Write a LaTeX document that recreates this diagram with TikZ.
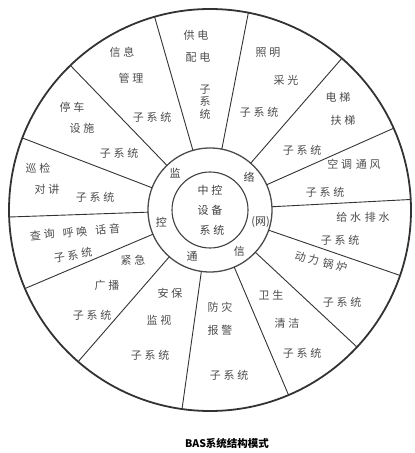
\documentclass[tikz,border=0pt]{standalone}
\usepackage{fontspec}
\newfontfamily\cjk[LetterSpace=25]{Noto Sans CJK SC}
\newfontfamily\cjktight{Noto Sans CJK SC}
\usetikzlibrary{calc}
\tikzset{
  sublbl/.style={font=\cjk\fontsize{11}{12.5}\selectfont,text=black!70,inner sep=0pt,align=center},
  ringlbl/.style={font=\cjk\fontsize{11}{11}\selectfont,text=black!75,inner sep=0pt},
  spoke/.style={black!80,line width=0.9pt}
}

\begin{document}
\begin{tikzpicture}[x=1pt,y=1pt]
\useasboundingbox (0,0) rectangle (415,453);
\coordinate (c) at (210,243);
% circles
\draw[black!80,line width=1.8pt] (c) circle[radius=201pt];
\draw[black!70,line width=1.3pt] (c) circle[radius=62pt];
\draw[black!75,line width=1.1pt] (c) circle[radius=38pt];
% spokes between the sectors
\foreach \a in {106,79,49,24,3,-19,-43,-67,-98,-131,-157,-178,159,134}
  \draw[spoke] ($(c)+(\a:62)$) -- ($(c)+(\a:201)$);
% centre
\node[ringlbl] (zk) at (210,263) {中控};
\node[ringlbl] (sb) at (210,243) {设备};
\node[ringlbl] (xt) at (212,223) {系统};
% ring
\node[ringlbl] (jian) at ($(c)+(133:51)$) {监};
\node[ringlbl] (kong) at ($(c)+(194:50)$) {控};
\node[ringlbl] (tong) at ($(c)+(249:50)$) {通};
\node[ringlbl] (xin) at ($(c)+(305:51)$) {信};
\node[ringlbl,font=\cjktight\fontsize{11}{11}\selectfont] (wang) at ($(c)+(347:52)$) {(网)};
\node[ringlbl] (luo) at ($(c)+(40:51)$) {络};
% sectors
\node[sublbl] (ktA) at (354,289) {空调\hspace{4pt}通风};
\node[sublbl] (ktB) at (325,261) {子系统};
\node[sublbl] (dtA) at (338,356) {电梯};
\node[sublbl] (dtB) at (343,333) {扶梯};
\node[sublbl] (dtC) at (302,303) {子系统};
\node[sublbl] (zmA) at (268,400) {照明};
\node[sublbl] (zmB) at (286,373) {采光};
\node[sublbl] (zmC) at (259,341) {子系统};
\node[sublbl] (gdA) at (196,418) {供电};
\node[sublbl] (gdB) at (198,396) {配电};
\node[sublbl,font=\cjktight\fontsize{11}{12.5}\selectfont] (gdC) at (205,351) {子\\系\\统};
\node[sublbl] (xxA) at (122,401) {信息};
\node[sublbl] (xxB) at (131,375) {管理};
\node[sublbl] (xxC) at (152,336) {子系统};
\node[sublbl] (tcA) at (72,346) {停车};
\node[sublbl] (tcB) at (82,325) {设施};
\node[sublbl] (tcC) at (119,300) {子系统};
\node[sublbl] (xjA) at (38,285) {巡检};
\node[sublbl] (xjB) at (47,264) {对讲};
\node[sublbl] (xjC) at (95,256) {子系统};
\node[sublbl,rotate=5] (cxA) at (75,221) {查询\hspace{8pt}呼唤\hspace{8pt}话音};
\node[sublbl,rotate=9] (cxB) at (73,198) {子系统};
\node[sublbl] (jjA) at (133,193) {紧急};
\node[sublbl] (jjB) at (107,168) {广播};
\node[sublbl] (jjC) at (92,138) {子系统};
\node[sublbl] (abA) at (170,160) {安保};
\node[sublbl] (abB) at (159,133) {监视};
\node[sublbl] (abC) at (150,98) {子系统};
\node[sublbl] (fzA) at (220,146) {防灾};
\node[sublbl] (fzB) at (220,123) {报警};
\node[sublbl] (fzC) at (229,78) {子系统};
\node[sublbl] (wsA) at (271,158) {卫生};
\node[sublbl] (wsB) at (287,130) {清洁};
\node[sublbl] (wsC) at (302,100) {子系统};
\node[sublbl,rotate=-14] (dlA) at (321,191) {动力\hspace{4pt}锅炉};
\node[sublbl] (dlB) at (342,151) {子系统};
\node[sublbl] (gsA) at (363,236) {给水\hspace{4pt}排水};
\node[sublbl] (gsB) at (340,213) {子系统};
% caption
\node[font=\cjktight\bfseries\fontsize{10.5}{10.5}\selectfont,inner sep=0pt] (cap) at (227,10) {BAS系统结构模式};
\end{tikzpicture}
\end{document}
